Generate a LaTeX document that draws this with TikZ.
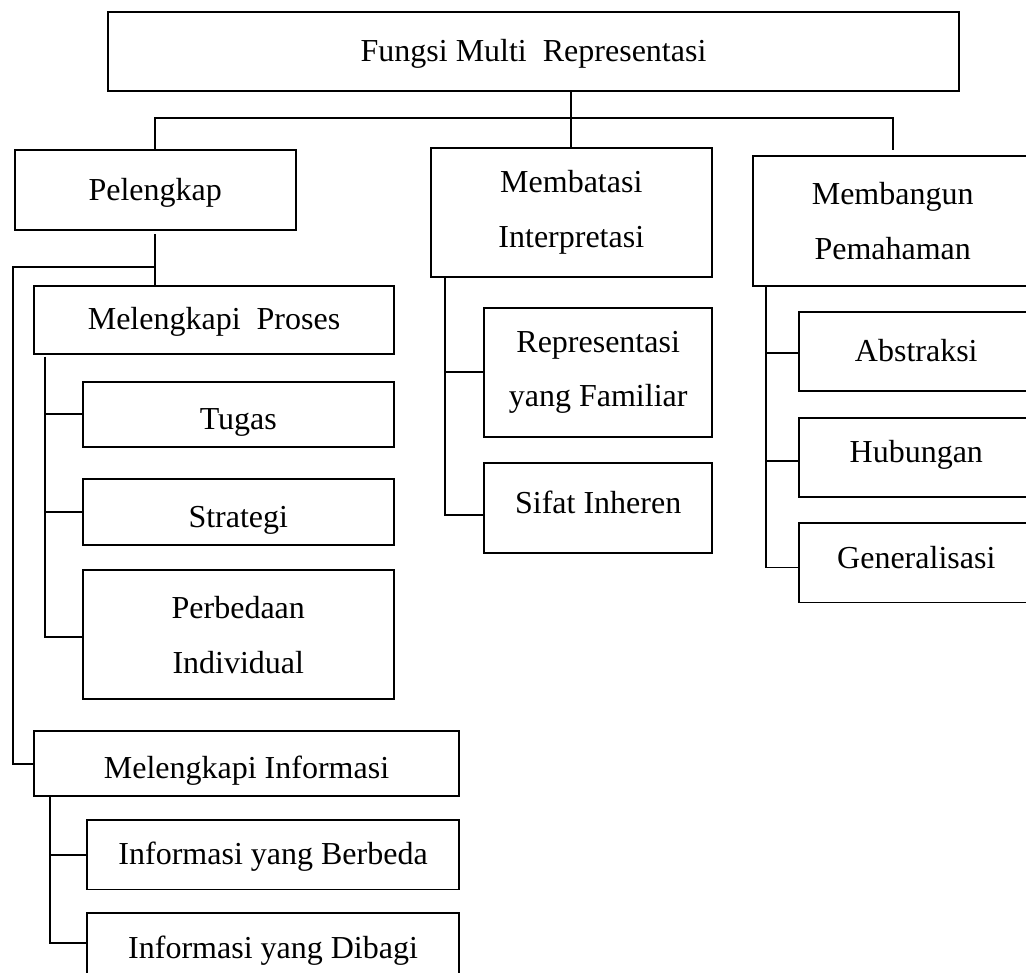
\documentclass[tikz,border=0pt]{standalone}
\usepackage{fontspec}
\setmainfont{Liberation Serif}
\usepackage{tikz}
\usetikzlibrary{positioning}

\begin{document}
\begin{tikzpicture}[x=0.75pt, y=-0.75pt, line width=1.4pt, node distance=2cm]
      \tikzstyle{line} = [draw, line width=1.4pt]
      \tikzstyle{frame} = [draw, rectangle, inner sep=0pt, outer sep=0pt, align=center, font=\fontsize{24}{41}\selectfont]
      \tikzstyle{box} = [frame, text height=19pt, text depth=4pt]
      \tikzstyle{low text} = [text height=24pt, text depth=1.5pt]
      \tikzstyle{high text} = [text height=14pt, text depth=6pt]
      \path[use as bounding box, clip] (0,0) rectangle (1026,973);
      %nodes
      \node[box, anchor=north west]  (fungsi)  at (108.3,11.7) [minimum width=637.8pt, minimum height=59.5pt] {Fungsi Multi~ Representasi};
      \node[box]   (pelengkap)  [below right=44.3pt and -70.2pt of fungsi.south west, minimum width=210.8pt, minimum height=60pt] {Pelengkap};
      \node[frame] (membatasi)  [below right=43pt and 242pt of fungsi.south west, minimum width=210.5pt, minimum height=96.3pt] {Membatasi\\Interpretasi};
      \node[frame] (membangun)  [below right=5.8pt and 30.8pt of membatasi.north east, minimum width=210pt, minimum height=97.3pt] {Membangun\\Pemahaman};

      \node[box]   (proses)     [below right=41.8pt and 14.7pt of pelengkap.south west, minimum width=269.6pt, minimum height=51.2pt] {Melengkapi~ Proses};
      \node[box, low text] (tugas) [below right=20.8pt and 36.5pt of proses.south west, minimum width=233pt, minimum height=48.8pt] {Tugas};
      \node[box, low text] (strategi) [below right=24.2pt and 0pt of tugas.south west, minimum width=233pt, minimum height=49.5pt] {Strategi};
      \node[frame] (perbedaan)  [below right=18.8pt and 0pt of strategi.south west, minimum width=233pt, minimum height=96.8pt] {Perbedaan\\Individual};

      \node[box, low text] (informasi) [below right=24pt and -36.5pt of perbedaan.south west, minimum width=318.3pt, minimum height=48.8pt] {Melengkapi Informasi};
      \node[box]   (berbeda)    [below right=17.5pt and 39.8pt of informasi.south west, minimum width=278.6pt, minimum height=52.3pt] {Informasi yang Berbeda};
      \node[box]   (dibagi)     [below right=17.8pt and 0pt of berbeda.south west, minimum width=278.6pt, minimum height=52.5pt] {Informasi yang Dibagi};

      \node[frame] (familiar)   [below right=23.5pt and 40pt of membatasi.south west, minimum width=170.8pt, minimum height=96.5pt] {Representasi\\yang Familiar};
      \node[box, high text] (sifat) [below right=19.7pt and 0pt of familiar.south west, minimum width=170.8pt, minimum height=67.3pt] {Sifat Inheren};

      \node[box]   (abstraksi)  [below right=19.5pt and 35pt of membangun.south west, minimum width=175.4pt, minimum height=59.5pt] {Abstraksi};
      \node[box, high text] (hubungan) [below right=20pt and 0pt of abstraksi.south west, minimum width=175.4pt, minimum height=59.7pt] {Hubungan};
      \node[box, high text] (generalisasi) [below right=19.3pt and 0pt of hubungan.south west, minimum width=175.4pt, minimum height=59.5pt] {Generalisasi};

      %lines
      \path [line] (membatasi.north) -- (membatasi.north |- fungsi.south);
      \path [line] (pelengkap.north) -- ++(0,-31.7) -| ([yshift=4.5pt]membangun.north);
      \path [line] ([yshift=-3pt]pelengkap.south) -- (proses.north -| pelengkap.south);
      \coordinate (split) at ([yshift=-27.5pt]pelengkap.south);
      \path [line] (split) -- ++(-142.2,0) |- (informasi.west);

      \path [line] ([xshift=8pt,yshift=-2pt]proses.south west) |- (tugas.west);
      \path [line] ([xshift=8pt,yshift=-2pt]proses.south west) |- (strategi.west);
      \path [line] ([xshift=8pt,yshift=-2pt]proses.south west) |- ([yshift=-1.6pt]perbedaan.west);

      \path [line] ([xshift=11.5pt]informasi.south west) |- (berbeda.west);
      \path [line] ([xshift=11.5pt]informasi.south west) |- ([yshift=4pt]dibagi.west);

      \path [line] ([xshift=10.5pt]membatasi.south west) |- (familiar.west);
      \path [line] ([xshift=10.5pt]membatasi.south west) |- ([yshift=-5.3pt]sifat.west);

      \path [line] ([xshift=10pt]membangun.south west) |- ([yshift=-1.4pt]abstraksi.west);
      \path [line] ([xshift=10pt]membangun.south west) |- ([yshift=-2.4pt]hubungan.west);
      \path [line] ([xshift=10pt]membangun.south west) |- ([yshift=-3.5pt]generalisasi.west);
\end{tikzpicture}
\end{document}
